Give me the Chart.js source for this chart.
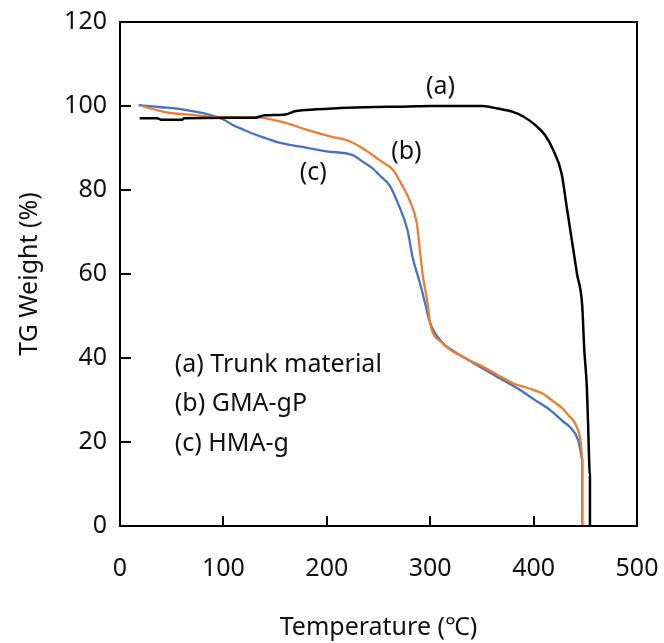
<!DOCTYPE html>
<html>
<head>
<meta charset="utf-8">
<script src="https://cdn.jsdelivr.net/npm/chart.js@4/dist/chart.umd.min.js"></script>
<style>
  html, body { margin: 0; padding: 0; background: #fff; }
  #wrap { width: 664px; height: 643px; }
</style>
</head>
<body>
<div id="wrap"><canvas id="tgChart" width="664" height="643"></canvas></div>
<script>
// Axis ticks
const xTicks = [0, 100, 200, 300, 400, 500];
const yTicks = [0, 20, 40, 60, 80, 100, 120];

// (a) Trunk material
const trunkTemp = [19, 36, 40, 60, 62, 130, 140, 160, 170, 190, 220, 280, 300, 351, 365, 380, 390, 400, 411, 419, 427, 432, 437, 442, 447, 449, 451.5, 452.6, 454.5, 454.5];
const trunkWeight = [97.1, 97.1, 96.7, 96.7, 97.1, 97.2, 97.8, 98.0, 98.8, 99.2, 99.6, 99.9, 100, 100, 99.4, 98.6, 97.5, 95.8, 93.1, 89.5, 84.0, 76.0, 68.0, 60.0, 52.5, 42.0, 33.0, 25.0, 12.0, 0];

// (b) GMA-gP
const gmaTemp = [22, 45, 70, 90, 133, 161, 181, 206, 219, 235, 251, 264, 272, 280, 287, 290, 293, 297, 300, 312, 330, 348, 365, 380, 395, 409, 420, 428, 435, 440, 444, 446, 447, 447];
const gmaWeight = [99.9, 98.5, 97.9, 97.4, 97.3, 95.9, 94.3, 92.6, 91.9, 89.9, 87.1, 84.8, 81.5, 77.6, 72.1, 65.7, 59.3, 53.8, 48.3, 43.5, 40.5, 38.3, 36.0, 34.0, 32.8, 31.5, 29.5, 28.0, 26.0, 24.5, 22.0, 19.0, 16.0, 0];

// (c) HMA-g
const hmaTemp = [18, 40, 55, 70, 87, 100, 109, 120, 132, 145, 155, 175, 200, 225, 235, 245, 251, 261, 268, 278, 283, 290, 295, 300, 312, 321, 335, 348, 365, 387, 400, 416, 428, 435, 443, 446, 447, 447];
const hmaWeight = [100.2, 99.7, 99.4, 98.8, 97.9, 96.8, 95.5, 94.3, 93.1, 92.0, 91.2, 90.3, 89.2, 88.3, 86.7, 85.0, 83.5, 81.0, 77.3, 70.5, 64.0, 57.9, 53.1, 48.3, 43.6, 41.9, 39.8, 37.9, 35.5, 32.4, 30.2, 27.6, 25.0, 23.6, 20.5, 17.0, 15.7, 0];

const FONT = "'Noto Sans', 'Open Sans', sans-serif";
const FONT_SIZE = 25;

function toPoints(xs, ys) {
    return xs.map((x, i) => ({ x: x, y: ys[i] }));
}

// Inner tick marks, frame and in-plot labels
const decorPlugin = {
    id: 'decor',
    afterDraw(chart) {
        const ctx = chart.ctx;
        const area = chart.chartArea;
        const xs = chart.scales.x;
        const ys = chart.scales.y;
        ctx.save();
        ctx.strokeStyle = '#000';
        ctx.lineWidth = 2;
        ctx.beginPath();
        ctx.moveTo(area.left, area.top);
        ctx.lineTo(area.right, area.top);
        ctx.lineTo(area.right, area.bottom);
        ctx.lineTo(area.left, area.bottom);
        ctx.lineTo(area.left, area.top);
        ctx.stroke();

        ctx.beginPath();
        yTicks.forEach(v => {
            const py = Math.round(ys.getPixelForValue(v));
            ctx.moveTo(area.left, py);
            ctx.lineTo(area.left + 11, py);
        });
        xTicks.forEach(v => {
            const px = Math.round(xs.getPixelForValue(v));
            ctx.moveTo(px, area.bottom);
            ctx.lineTo(px, area.bottom - 10);
        });
        ctx.stroke();

        ctx.fillStyle = '#111';
        ctx.font = FONT_SIZE + 'px ' + FONT;
        ctx.textBaseline = 'middle';
        ctx.textAlign = 'center';
        ctx.fillText('(a)', xs.getPixelForValue(310), ys.getPixelForValue(104.6));
        ctx.fillText('(b)', xs.getPixelForValue(277), ys.getPixelForValue(89.0));
        ctx.fillText('(c)', xs.getPixelForValue(187), ys.getPixelForValue(84.0));

        ctx.textAlign = 'left';
        const lx = xs.getPixelForValue(53);
        ctx.fillText('(a) Trunk material', lx, ys.getPixelForValue(38.3));
        ctx.fillText('(b) GMA-gP', lx, ys.getPixelForValue(29.1));
        ctx.fillText('(c) HMA-g', lx, ys.getPixelForValue(19.5));
        ctx.restore();
    }
};

const ctx = document.getElementById('tgChart');
new Chart(ctx, {
    type: 'scatter',
    data: {
        datasets: [
            { label: '(a) Trunk material', data: toPoints(trunkTemp, trunkWeight), borderColor: '#000000', borderWidth: 2.5 },
            { label: '(b) GMA-gP', data: toPoints(gmaTemp, gmaWeight), borderColor: '#ED7D31', borderWidth: 2.3 },
            { label: '(c) HMA-g', data: toPoints(hmaTemp, hmaWeight), borderColor: '#4472C4', borderWidth: 2.3 }
        ].map(ds => Object.assign(ds, { showLine: true, pointRadius: 0, fill: false, cubicInterpolationMode: 'monotone' }))
    },
    options: {
        responsive: false,
        animation: false,
        layout: { padding: { top: 22, right: 27, left: 0, bottom: 0 } },
        plugins: { legend: { display: false }, tooltip: { enabled: false } },
        scales: {
            x: {
                type: 'linear',
                min: 0,
                max: 500,
                afterFit: (s) => { s.height = 117; s.paddingLeft = 0; s.paddingRight = 0; },
                afterBuildTicks: (s) => { s.ticks = xTicks.map(v => ({ value: v })); },
                grid: { display: false, drawTicks: false },
                border: { display: true, color: '#000', width: 2 },
                ticks: { color: '#111', padding: 28, font: { family: FONT, size: FONT_SIZE } },
                title: { display: true, text: 'Temperature (℃)', color: '#111', padding: { top: 0, bottom: 0 }, font: { family: FONT, size: FONT_SIZE } }
            },
            y: {
                type: 'linear',
                min: 0,
                max: 120,
                afterFit: (s) => { s.width = 120; s.paddingTop = 0; s.paddingBottom = 0; },
                afterBuildTicks: (s) => { s.ticks = yTicks.map(v => ({ value: v })); },
                grid: { display: false, drawTicks: false },
                border: { display: true, color: '#000', width: 2 },
                ticks: { color: '#111', padding: 13, font: { family: FONT, size: FONT_SIZE } },
                title: { display: true, text: 'TG Weight (%)', color: '#111', padding: { top: 15, bottom: 0 }, font: { family: FONT, size: FONT_SIZE } }
            }
        }
    },
    plugins: [decorPlugin]
});
</script>
</body>
</html>
